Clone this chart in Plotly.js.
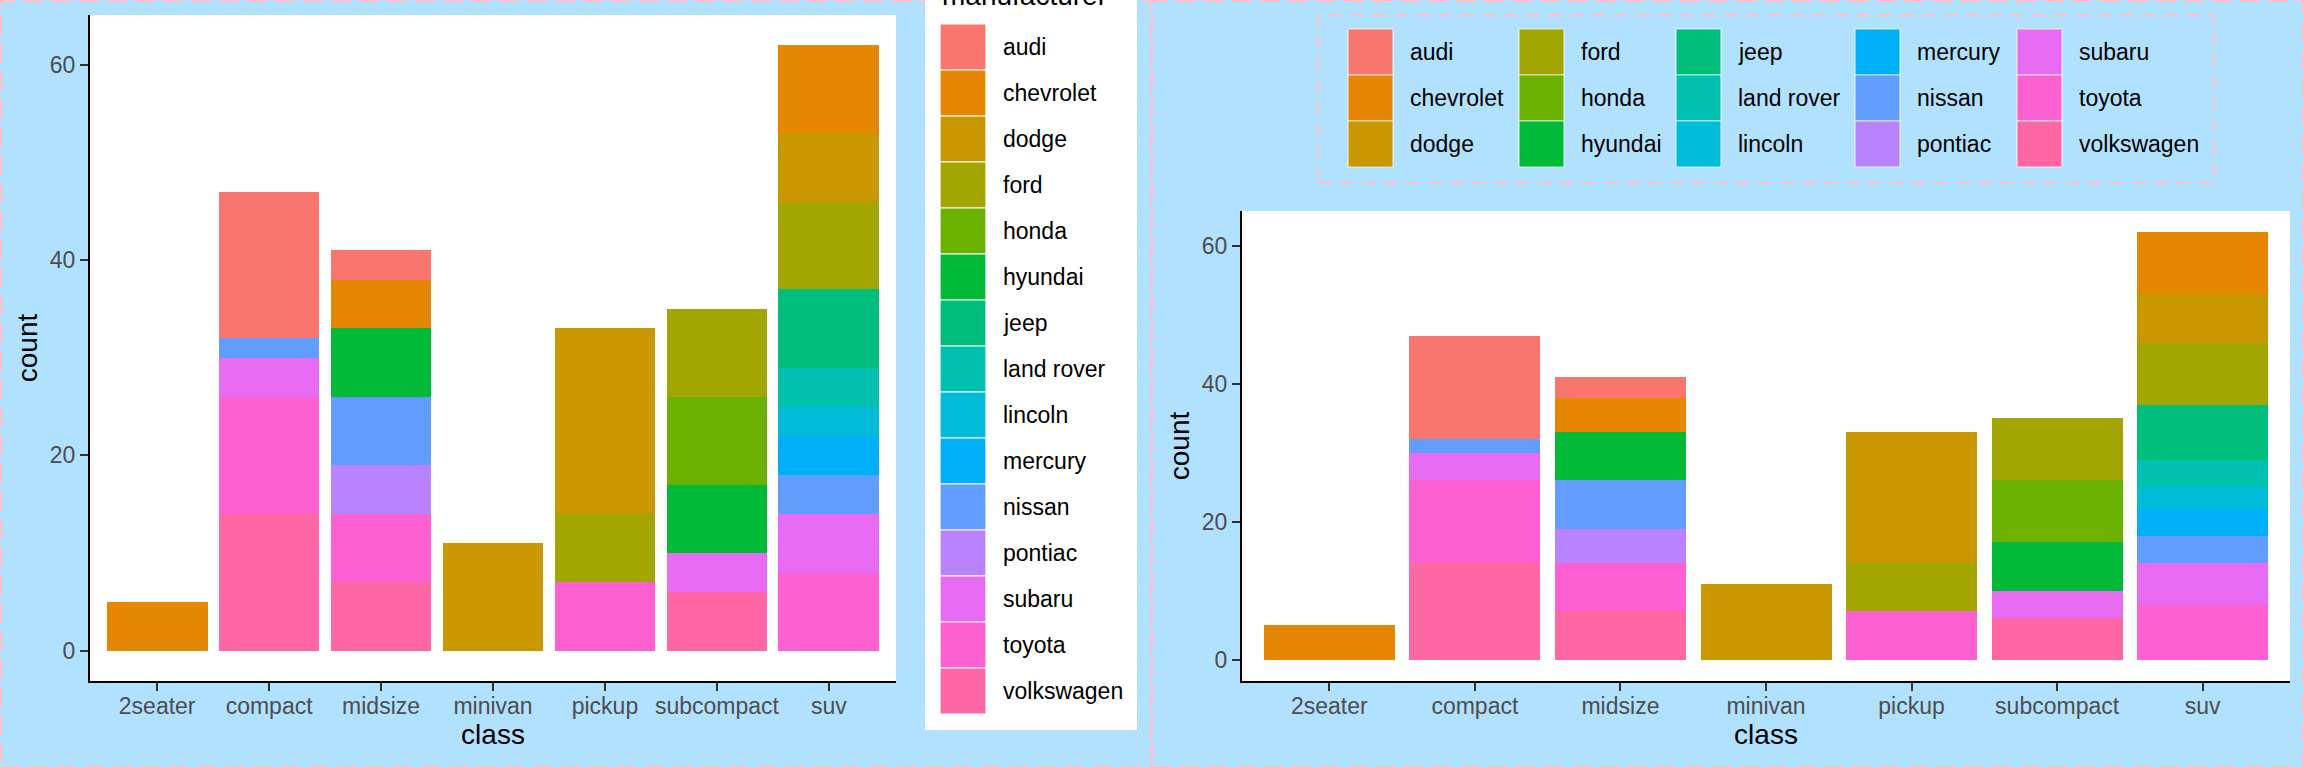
<!DOCTYPE html>
<html>
<head>
<meta charset="utf-8">
<script src="https://cdn.plot.ly/plotly-3.0.1.min.js"></script>
<style>html,body{margin:0;padding:0;background:#B0E2FF;}#chart{width:2304px;height:768px;}</style>
</head>
<body>
<div id="chart"></div>
<script>
// ---- data (mpg: count of models by class and manufacturer) ----
const classes = ['2seater', 'compact', 'midsize', 'minivan', 'pickup', 'subcompact', 'suv'];
const manufacturers = ['audi', 'chevrolet', 'dodge', 'ford', 'honda', 'hyundai', 'jeep', 'land rover',
  'lincoln', 'mercury', 'nissan', 'pontiac', 'subaru', 'toyota', 'volkswagen'];
const manufacturerColors = ['#F8766D', '#E58700', '#C99800', '#A3A500', '#6BB100', '#00BA38', '#00BF7D',
  '#00C0AF', '#00BCD8', '#00B0F6', '#619CFF', '#B983FF', '#E76BF3', '#FD61D1', '#FF67A4'];
const audi       = [0, 15, 3, 0, 0, 0, 0];
const chevrolet  = [5, 0, 5, 0, 0, 0, 9];
const dodge      = [0, 0, 0, 11, 19, 0, 7];
const ford       = [0, 0, 0, 0, 7, 9, 9];
const honda      = [0, 0, 0, 0, 0, 9, 0];
const hyundai    = [0, 0, 7, 0, 0, 7, 0];
const jeep       = [0, 0, 0, 0, 0, 0, 8];
const landRover  = [0, 0, 0, 0, 0, 0, 4];
const lincoln    = [0, 0, 0, 0, 0, 0, 3];
const mercury    = [0, 0, 0, 0, 0, 0, 4];
const nissan     = [0, 2, 7, 0, 0, 0, 4];
const pontiac    = [0, 0, 5, 0, 0, 0, 0];
const subaru     = [0, 4, 0, 0, 0, 4, 6];
const toyota     = [0, 12, 7, 0, 7, 0, 8];
const volkswagen = [0, 14, 7, 0, 0, 6, 0];
const yTicks = [0, 20, 40, 60];
const xTitle = 'class', yTitle = 'count', legendTitle = 'manufacturer';

const countsByManufacturer = [audi, chevrolet, dodge, ford, honda, hyundai, jeep, landRover,
  lincoln, mercury, nissan, pontiac, subaru, toyota, volkswagen];

// ---- helpers ----
const W = 2304, H = 768;
const px = x => x / W;
const py = y => 1 - y / H;
const FONT = '"Liberation Sans", Arial, Helvetica, sans-serif';
const PINK = '#FFC0CB';

// ---- traces: stack with volkswagen at bottom (first) ----
const traces = [];
['x', 'x2'].forEach((xa, k) => {
  for (let i = manufacturers.length - 1; i >= 0; i--) {
    traces.push({
      type: 'bar',
      name: manufacturers[i],
      x: classes,
      y: countsByManufacturer[i].map(v => v === 0 ? null : v),
      xaxis: xa,
      yaxis: k === 0 ? 'y' : 'y2',
      width: 0.9,
      marker: {color: manufacturerColors[i], line: {width: 0}},
      showlegend: false,
      hovertemplate: '%{x}<br>' + manufacturers[i] + ': %{y}<extra></extra>'
    });
  }
});

// ---- axes ----
function xAxis(domain) {
  return {
    domain: domain, type: 'category', categoryorder: 'array', categoryarray: classes,
    range: [-0.6, classes.length - 0.4], showgrid: false, zeroline: false,
    showline: true, linecolor: '#000000', linewidth: 2,
    ticks: 'outside', ticklen: 8, tickwidth: 2, tickcolor: '#333333',
    tickfont: {family: FONT, size: 23, color: '#4D4D4D'}, ticklabelstandoff: -5,
    title: {text: xTitle, font: {family: FONT, size: 28, color: '#000000'}, standoff: 4},
    automargin: false, fixedrange: true
  };
}
function yAxis(domain, anchor) {
  return {
    domain: domain, anchor: anchor, range: [-3.1, 65.1], tickvals: yTicks, ticktext: yTicks.map(String),
    showgrid: false, zeroline: false, showline: true, linecolor: '#000000', linewidth: 2,
    ticks: 'outside', ticklen: 8, tickwidth: 2, tickcolor: '#333333',
    tickfont: {family: FONT, size: 23, color: '#4D4D4D'},
    title: {text: yTitle, font: {family: FONT, size: 28, color: '#000000'}, standoff: 4},
    automargin: false, fixedrange: true
  };
}

const shapes = [];
const annotations = [];

// panel borders (dashed pink)
shapes.push({type: 'rect', xref: 'paper', yref: 'paper', x0: px(1), x1: px(1151), y0: py(767), y1: py(1),
  line: {color: PINK, width: 2, dash: '20px,8px'}, fillcolor: 'rgba(0,0,0,0)', layer: 'above'});
shapes.push({type: 'rect', xref: 'paper', yref: 'paper', x0: px(1152), x1: px(2303), y0: py(767), y1: py(1),
  line: {color: PINK, width: 2, dash: '20px,8px'}, fillcolor: 'rgba(0,0,0,0)', layer: 'above'});

// left legend (vertical, white box)
shapes.push({type: 'rect', xref: 'paper', yref: 'paper', x0: px(925), x1: px(1137), y0: py(730), y1: py(-20),
  line: {width: 0}, fillcolor: '#FFFFFF', layer: 'above'});
annotations.push({xref: 'paper', yref: 'paper', x: px(940), y: py(13), xanchor: 'left', yanchor: 'bottom',
  text: legendTitle, showarrow: false, font: {family: FONT, size: 28, color: '#000000'}});
manufacturers.forEach((m, i) => {
  const top = 24 + i * 46;
  shapes.push({type: 'rect', xref: 'paper', yref: 'paper', x0: px(940), x1: px(986), y0: py(top + 46), y1: py(top),
    line: {color: '#FFFFFF', width: 1.2}, fillcolor: manufacturerColors[i], layer: 'above'});
  annotations.push({xref: 'paper', yref: 'paper', x: px(1001), y: py(top + 23), xanchor: 'left', yanchor: 'middle',
    text: m, showarrow: false, font: {family: FONT, size: 23, color: '#000000'}});
});

// right legend (5 columns x 3 rows, dashed pink box)
shapes.push({type: 'rect', xref: 'paper', yref: 'paper', x0: px(1318), x1: px(2214), y0: py(183), y1: py(15),
  line: {color: PINK, width: 2, dash: '14px,8px'}, fillcolor: 'rgba(0,0,0,0)', layer: 'above'});
const colKeyX = [1348, 1519, 1676, 1855, 2017];
manufacturers.forEach((m, i) => {
  const c = Math.floor(i / 3), r = i % 3;
  const top = 29 + r * 46;
  const kx = colKeyX[c];
  shapes.push({type: 'rect', xref: 'paper', yref: 'paper', x0: px(kx), x1: px(kx + 45), y0: py(top + 46), y1: py(top),
    line: {color: 'rgba(255,255,255,0.7)', width: 1.2}, fillcolor: manufacturerColors[i], layer: 'above'});
  annotations.push({xref: 'paper', yref: 'paper', x: px(kx + 60), y: py(top + 23), xanchor: 'left', yanchor: 'middle',
    text: m, showarrow: false, font: {family: FONT, size: 23, color: '#000000'}});
});

const layout = {
  width: W, height: H,
  margin: {l: 0, r: 0, t: 0, b: 0, pad: 0},
  paper_bgcolor: '#B0E2FF',
  plot_bgcolor: '#FFFFFF',
  barmode: 'stack',
  bargap: 0.1,
  showlegend: false,
  font: {family: FONT},
  xaxis: Object.assign(xAxis([px(90), px(896)]), {anchor: 'y'}),
  yaxis: yAxis([py(681), py(15)], 'x'),
  xaxis2: Object.assign(xAxis([px(1242), px(2290)]), {anchor: 'y2'}),
  yaxis2: yAxis([py(681), py(211)], 'x2'),
  shapes: shapes,
  annotations: annotations
};

Plotly.newPlot('chart', traces, layout, {displayModeBar: false, staticPlot: true});
</script>
</body>
</html>
